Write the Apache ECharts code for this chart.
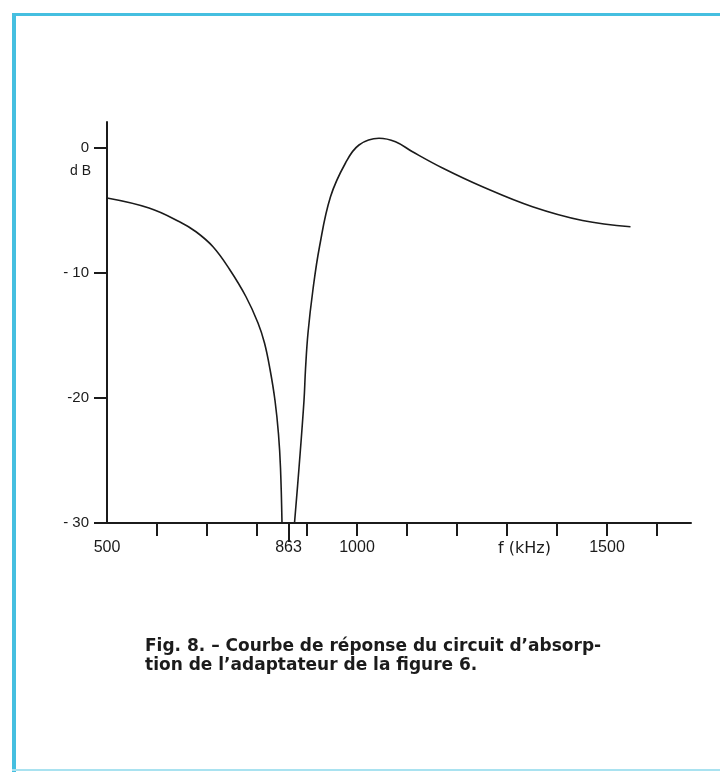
<!DOCTYPE html>
<html>
<head>
<meta charset="utf-8">
<script src="https://cdn.jsdelivr.net/npm/echarts@6/dist/echarts.min.js"></script>
<style>
html,body{margin:0;padding:0;background:#ffffff;}
#chart{width:720px;height:774px;}
</style>
</head>
<body>
<div id="chart"></div>
<script>
// ---- data ----
const freqKHz = [500, 584, 645, 678, 712, 745, 778, 802, 815, 826, 836, 843, 847, 850,
                 863,
                 875, 884, 894, 897, 902, 912, 925, 947, 977, 1004, 1044, 1077, 1111, 1171, 1251, 1351, 1451, 1547];
const levelDb = [-4.0, -4.8, -5.9, -6.7, -7.9, -9.7, -11.9, -14.0, -15.6, -17.7, -20.2, -22.9, -25.6, -30,
                 null,
                 -30, -25.6, -20.2, -17.7, -14.8, -11.3, -7.9, -3.9, -1.2, 0.24, 0.78, 0.5, -0.3, -1.6, -3.1, -4.7, -5.8, -6.3];

const xTickValues = [600, 700, 800, 900, 1000, 1100, 1200, 1300, 1400, 1500, 1600];
const xLabelValues = [500, 863, 1000, 1500];
const notchTick = [863];
const yTickValues = [-30, -20, -10, 0];
const yTickLabels = {"0": "0", "-10": "- 10", "-20": "-20", "-30": "- 30"};

const xUnitLabel = "f (kHz)";
const yUnitLabel = "d B";
const captionLines = [
  "Fig. 8. \u2013 Courbe de r\u00e9ponse du circuit d\u2019absorp-",
  "tion de l\u2019adaptateur de la figure 6."
];

const FONT = "'Liberation Sans', Arial, sans-serif";
const WIDE = "'DejaVu Sans', sans-serif";
const INK = '#1b1b1b';
const FRAME = '#45bfe0';

const chart = echarts.init(document.getElementById('chart'), null, {renderer: 'canvas'});

const seriesData = freqKHz.map((f, i) => [f, levelDb[i]]);

chart.setOption({
  backgroundColor: '#ffffff',
  animation: false,
  grid: {left: 107, top: 122, width: 584, height: 401, containLabel: false},
  xAxis: [
    {
      type: 'value', min: 500, max: 1668, position: 'bottom',
      axisLine: {show: true, onZero: false, lineStyle: {color: INK, width: 2}},
      axisTick: {show: true, customValues: xTickValues, length: 13, lineStyle: {color: INK, width: 2}},
      axisLabel: {show: true, customValues: xLabelValues, margin: 17, color: INK,
                  fontSize: 16, fontFamily: FONT, formatter: v => String(v)},
      splitLine: {show: false}
    },
    {
      type: 'value', min: 500, max: 1668, position: 'bottom',
      axisLine: {show: false, onZero: false},
      axisTick: {show: true, customValues: notchTick, length: 19, lineStyle: {color: INK, width: 2}},
      axisLabel: {show: false},
      splitLine: {show: false}
    }
  ],
  yAxis: {
    type: 'value', min: -30, max: 2.08,
    axisLine: {show: true, onZero: false, lineStyle: {color: INK, width: 2}},
    axisTick: {show: true, customValues: yTickValues, length: 13, lineStyle: {color: INK, width: 2}},
    axisLabel: {show: true, customValues: yTickValues, margin: 18, color: INK,
                fontSize: 15, fontFamily: FONT,
                formatter: v => yTickLabels[String(Math.round(v))]},
    splitLine: {show: false}
  },
  series: [{
    type: 'line',
    xAxisIndex: 0,
    data: seriesData,
    showSymbol: false,
    connectNulls: false,
    smooth: 0.4,
    clip: true,
    lineStyle: {color: INK, width: 1.6}
  }],
  graphic: [
    {type: 'rect', shape: {x: 12, y: 13, width: 4, height: 759}, style: {fill: FRAME}, silent: true},
    {type: 'rect', shape: {x: 12, y: 13, width: 708, height: 3}, style: {fill: FRAME}, silent: true},
    {type: 'rect', shape: {x: 12, y: 769, width: 708, height: 2}, style: {fill: '#a9e2f0'}, silent: true},
    {type: 'text', left: 70, top: 164,
     style: {text: yUnitLabel, font: '14px ' + FONT, fill: INK}},
    {type: 'text', left: 498, top: 541,
     style: {text: xUnitLabel, font: '16px ' + WIDE, fill: INK}},
    {type: 'text', left: 145, top: 638,
     style: {text: captionLines[0], font: 'bold 17px ' + WIDE, fill: INK}},
    {type: 'text', left: 145, top: 657,
     style: {text: captionLines[1], font: 'bold 17px ' + WIDE, fill: INK}}
  ]
});
</script>
</body>
</html>
